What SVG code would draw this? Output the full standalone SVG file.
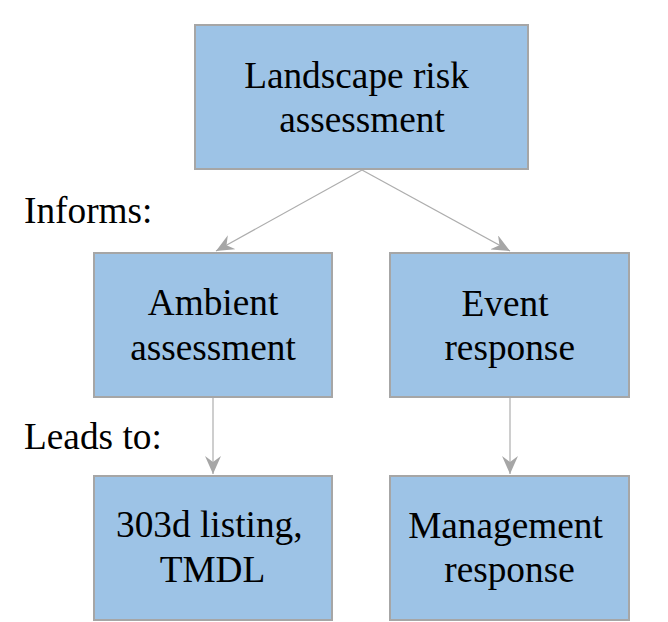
<svg xmlns="http://www.w3.org/2000/svg" width="668" height="622" viewBox="0 0 668 622">
<style>
.box{fill:#9DC3E6;stroke:#A6A6A6;stroke-width:2}
.lbl{font-size:37.3px;fill:#000}
.c{text-anchor:middle}
.conn{stroke:#ADADAD;stroke-width:1.2;fill:none}
</style>
<defs>
<marker id="ah" viewBox="0 0 18 16" refX="18" refY="8" markerWidth="18" markerHeight="16" markerUnits="userSpaceOnUse" orient="auto">
<path d="M0,0 L18,8 L0,16 L6,8 Z" fill="#A6A6A6"/>
</marker>
</defs>
<rect width="668" height="622" fill="#fff"/>
<g id="connectors">
<line class="conn" x1="362" y1="170" x2="216" y2="251" marker-end="url(#ah)"/>
<line class="conn" x1="362" y1="170" x2="510" y2="251" marker-end="url(#ah)"/>
<line class="conn" x1="213" y1="398" x2="213" y2="474" marker-end="url(#ah)"/>
<line class="conn" x1="510" y1="398" x2="510" y2="474" marker-end="url(#ah)"/>
</g>
<g font-family="'Liberation Serif', 'Times New Roman', Tinos, 'DejaVu Serif', serif">
<g id="n-landscape">
<rect class="box" x="195" y="25" width="333" height="144"/>
<text class="lbl c" x="356.5" y="88">Landscape risk</text>
<text class="lbl c" x="362" y="132">assessment</text>
</g>
<g id="n-ambient">
<rect class="box" x="94" y="253" width="238" height="144"/>
<text class="lbl c" x="213" y="315">Ambient</text>
<text class="lbl c" x="213" y="360">assessment</text>
</g>
<g id="n-event">
<rect class="box" x="390" y="253" width="239" height="144"/>
<text class="lbl c" x="505" y="316">Event</text>
<text class="lbl c" x="509.7" y="360">response</text>
</g>
<g id="n-303d">
<rect class="box" x="94" y="476" width="238" height="144"/>
<text class="lbl c" x="209.3" y="537">303d listing,</text>
<text class="lbl c" x="212.5" y="582">TMDL</text>
</g>
<g id="n-management">
<rect class="box" x="390" y="476" width="239" height="144"/>
<text class="lbl c" x="505.5" y="538">Management</text>
<text class="lbl c" x="509.5" y="582">response</text>
</g>
<g id="side-labels">
<text class="lbl" x="24" y="223">Informs:</text>
<text class="lbl" x="24" y="449">Leads to:</text>
</g>
</g>
</svg>
